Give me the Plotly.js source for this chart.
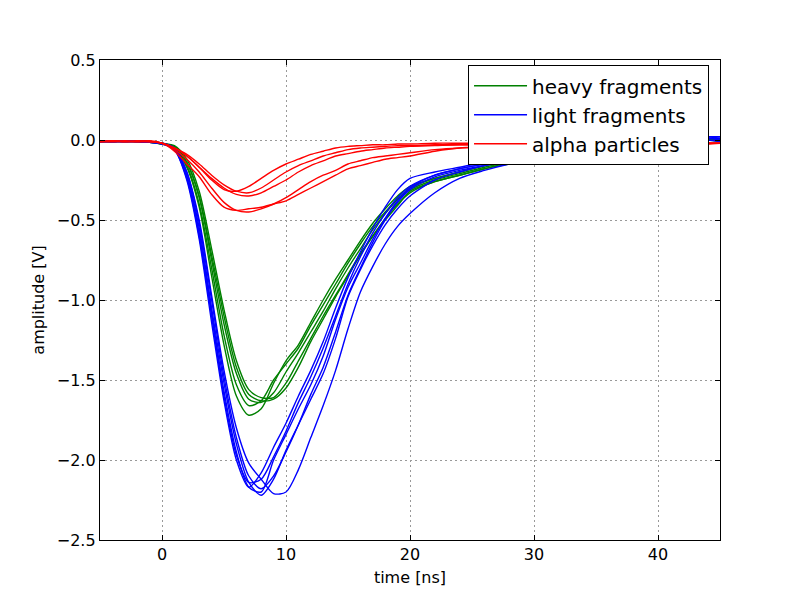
<!DOCTYPE html>
<html>
<head>
<meta charset="utf-8">
<script src="https://cdn.plot.ly/plotly-3.0.1.min.js"></script>
<style>
  html, body { margin: 0; padding: 0; background: #fff; }
  #chart { width: 800px; height: 600px; }
</style>
</head>
<body>
<div id="chart"></div>
<script>
// sample times [ns]
const TIME = [-5, -4, -3, -2, -1, 0, 1, 2, 3, 4, 5, 6, 7, 8, 9, 10, 11, 12, 13, 14, 15, 16, 17, 18, 19, 20,
  22, 24, 26, 28, 30, 32, 34, 36, 38, 40, 42, 44, 45];

// heavy fragments [V]
const HEAVY = [
  [-0.01, -0.01, -0.005, -0.01, -0.01, -0.025, -0.05, -0.17, -0.42, -0.85, -1.28, -1.6, -1.72, -1.68, -1.52, -1.38, -1.28, -1.14, -1.0, -0.87, -0.75, -0.63, -0.52, -0.43, -0.35, -0.29,
    -0.24, -0.2, -0.16, -0.13, -0.1, -0.07, -0.05, -0.03, -0.02, -0.01, 0.0, 0.01, 0.01],
  [-0.01, -0.005, -0.01, -0.01, -0.015, -0.025, -0.04, -0.14, -0.36, -0.75, -1.15, -1.46, -1.62, -1.64, -1.58, -1.45, -1.33, -1.2, -1.07, -0.93, -0.8, -0.68, -0.56, -0.46, -0.37, -0.31,
    -0.25, -0.21, -0.17, -0.14, -0.11, -0.08, -0.06, -0.04, -0.03, -0.02, -0.01, 0.0, 0.0],
  [-0.01, -0.01, -0.01, -0.005, -0.01, -0.02, -0.035, -0.12, -0.32, -0.68, -1.06, -1.38, -1.56, -1.61, -1.61, -1.52, -1.38, -1.24, -1.1, -0.97, -0.84, -0.71, -0.6, -0.49, -0.4, -0.33,
    -0.26, -0.22, -0.18, -0.14, -0.11, -0.08, -0.06, -0.04, -0.03, -0.02, -0.01, 0.0, 0.0],
  [-0.005, -0.01, -0.01, -0.01, -0.01, -0.02, -0.045, -0.16, -0.4, -0.8, -1.22, -1.53, -1.66, -1.63, -1.5, -1.4, -1.3, -1.16, -1.03, -0.9, -0.77, -0.65, -0.54, -0.45, -0.37, -0.3,
    -0.24, -0.2, -0.16, -0.13, -0.1, -0.07, -0.05, -0.04, -0.03, -0.01, 0.0, 0.01, 0.0],
  [-0.01, -0.01, -0.005, -0.01, -0.015, -0.025, -0.04, -0.14, -0.35, -0.72, -1.1, -1.42, -1.59, -1.63, -1.62, -1.55, -1.42, -1.26, -1.12, -0.98, -0.85, -0.72, -0.6, -0.5, -0.41, -0.32,
    -0.26, -0.22, -0.18, -0.15, -0.12, -0.09, -0.07, -0.05, -0.03, -0.02, -0.01, 0.0, -0.01],
];

// light fragments [V]
const LIGHT = [
  [-0.01, -0.005, -0.01, -0.01, -0.01, -0.02, -0.06, -0.25, -0.62, -1.14, -1.63, -2.0, -2.17, -2.08, -1.92, -1.77, -1.6, -1.44, -1.26, -1.05, -0.86, -0.7, -0.55, -0.42, -0.31, -0.24,
    -0.2, -0.17, -0.14, -0.12, -0.09, -0.07, -0.05, -0.03, -0.02, -0.01, 0.0, 0.02, 0.02],
  [-0.01, -0.01, -0.005, -0.01, -0.015, -0.025, -0.06, -0.23, -0.58, -1.08, -1.57, -1.95, -2.17, -2.2, -2.0, -1.84, -1.68, -1.53, -1.35, -1.12, -0.92, -0.77, -0.62, -0.49, -0.38, -0.3,
    -0.22, -0.18, -0.15, -0.12, -0.1, -0.07, -0.05, -0.04, -0.02, -0.01, 0.0, 0.01, 0.01],
  [-0.01, -0.01, -0.01, -0.005, -0.01, -0.02, -0.05, -0.22, -0.55, -1.05, -1.52, -1.9, -2.14, -2.22, -2.12, -1.94, -1.78, -1.62, -1.46, -1.24, -0.98, -0.81, -0.66, -0.53, -0.43, -0.35,
    -0.25, -0.2, -0.16, -0.13, -0.1, -0.08, -0.06, -0.04, -0.03, -0.01, 0.0, 0.01, 0.0],
  [-0.005, -0.01, -0.01, -0.01, -0.01, -0.02, -0.05, -0.2, -0.52, -1.0, -1.48, -1.86, -2.1, -2.18, -2.1, -1.95, -1.78, -1.59, -1.42, -1.2, -0.97, -0.8, -0.64, -0.5, -0.39, -0.31,
    -0.23, -0.19, -0.16, -0.13, -0.1, -0.08, -0.06, -0.04, -0.02, -0.01, 0.0, 0.01, 0.01],
  [-0.01, -0.01, -0.005, -0.01, -0.015, -0.025, -0.05, -0.2, -0.5, -0.97, -1.44, -1.8, -2.02, -2.12, -2.21, -2.2, -2.06, -1.86, -1.66, -1.44, -1.18, -0.95, -0.79, -0.65, -0.54, -0.46,
    -0.33, -0.24, -0.19, -0.15, -0.12, -0.09, -0.07, -0.05, -0.03, -0.02, -0.01, 0.0, -0.01],
  [-0.01, -0.01, -0.01, -0.01, -0.01, -0.02, -0.06, -0.24, -0.6, -1.1, -1.6, -1.97, -2.14, -2.12, -1.98, -1.82, -1.64, -1.48, -1.3, -1.1, -0.9, -0.73, -0.58, -0.46, -0.36, -0.29,
    -0.22, -0.18, -0.15, -0.12, -0.09, -0.07, -0.05, -0.03, -0.02, -0.01, 0.0, 0.02, 0.01],
];

// alpha particles [V]
const ALPHA = [
  [-0.01, -0.005, -0.01, -0.01, -0.01, -0.02, -0.05, -0.1, -0.17, -0.25, -0.31, -0.32, -0.29, -0.24, -0.19, -0.15, -0.12, -0.09, -0.07, -0.05, -0.04, -0.035, -0.03, -0.03, -0.025, -0.025,
    -0.02, -0.02, -0.02, -0.02, -0.02, -0.02, -0.02, -0.02, -0.02, -0.02, -0.02, -0.02, -0.02],
  [-0.01, -0.01, -0.01, -0.005, -0.01, -0.02, -0.05, -0.09, -0.15, -0.22, -0.28, -0.32, -0.33, -0.3, -0.25, -0.2, -0.16, -0.13, -0.1, -0.08, -0.06, -0.05, -0.045, -0.04, -0.035, -0.035,
    -0.03, -0.03, -0.03, -0.025, -0.025, -0.02, -0.02, -0.02, -0.02, -0.02, -0.02, -0.025, -0.02],
  [-0.01, -0.01, -0.005, -0.01, -0.01, -0.02, -0.05, -0.1, -0.17, -0.24, -0.3, -0.34, -0.35, -0.33, -0.29, -0.25, -0.2, -0.16, -0.13, -0.1, -0.085, -0.07, -0.06, -0.05, -0.045, -0.04,
    -0.035, -0.03, -0.03, -0.03, -0.025, -0.025, -0.02, -0.02, -0.02, -0.02, -0.02, -0.02, -0.02],
  [-0.01, -0.01, -0.01, -0.01, -0.005, -0.02, -0.06, -0.12, -0.2, -0.3, -0.39, -0.44, -0.45, -0.43, -0.4, -0.36, -0.31, -0.26, -0.22, -0.19, -0.15, -0.13, -0.11, -0.1, -0.09, -0.08,
    -0.06, -0.05, -0.04, -0.035, -0.03, -0.03, -0.025, -0.025, -0.02, -0.02, -0.02, -0.02, -0.02],
  [-0.01, -0.005, -0.01, -0.01, -0.01, -0.02, -0.07, -0.15, -0.23, -0.34, -0.42, -0.44, -0.43, -0.42, -0.4, -0.38, -0.34, -0.3, -0.26, -0.22, -0.18, -0.16, -0.14, -0.12, -0.11, -0.1,
    -0.07, -0.05, -0.045, -0.04, -0.035, -0.03, -0.03, -0.025, -0.025, -0.02, -0.02, -0.02, -0.02],
];

const GROUPS = [
  { name: "heavy fragments", color: "#008000", curves: HEAVY },
  { name: "light fragments", color: "#0000ff", curves: LIGHT },
  { name: "alpha particles", color: "#ff0000", curves: ALPHA },
];

const FONT = "DejaVu Sans, sans-serif";

const traces = [];
GROUPS.forEach((group) => {
  group.curves.forEach((values, i) => {
    traces.push({
      type: "scatter",
      mode: "lines",
      x: TIME,
      y: values,
      name: group.name,
      legendgroup: group.name,
      showlegend: i === 0,
      line: { color: group.color, width: 1.4, shape: "spline", smoothing: 0.8 },
      hoverinfo: "skip",
    });
  });
});

const axisBase = {
  showline: true,
  linecolor: "#000",
  linewidth: 1.2,
  mirror: "allticks",
  ticks: "inside",
  ticklen: 5,
  tickcolor: "#000",
  showgrid: true,
  gridcolor: "#999",
  griddash: "2px,3px",
  gridwidth: 1,
  zeroline: false,
  tickfont: { family: FONT, size: 16, color: "#000" },
};

const layout = {
  width: 800,
  height: 600,
  margin: { l: 100, r: 80, t: 60, b: 60 },
  paper_bgcolor: "#fff",
  plot_bgcolor: "#fff",
  font: { family: FONT, color: "#000" },
  showlegend: true,
  xaxis: {
    ...axisBase,
    range: [-5, 45],
    tick0: 0,
    dtick: 10,
    title: { text: "time [ns]", font: { family: FONT, size: 16 }, standoff: 8 },
  },
  yaxis: {
    ...axisBase,
    range: [-2.5, 0.5],
    tick0: 0,
    dtick: 0.5,
    tickformat: ".1f",
    title: { text: "amplitude [V]", font: { family: FONT, size: 16 }, standoff: 8 },
  },
  legend: {
    x: 0.982,
    y: 0.9896,
    xanchor: "right",
    yanchor: "top",
    bgcolor: "#fff",
    bordercolor: "#000",
    borderwidth: 1.2,
    itemwidth: 53,
    font: { family: FONT, size: 20, color: "#000" },
    tracegroupgap: 0,
  },
};

Plotly.newPlot("chart", traces, layout, { staticPlot: true, displayModeBar: false });
</script>
</body>
</html>
